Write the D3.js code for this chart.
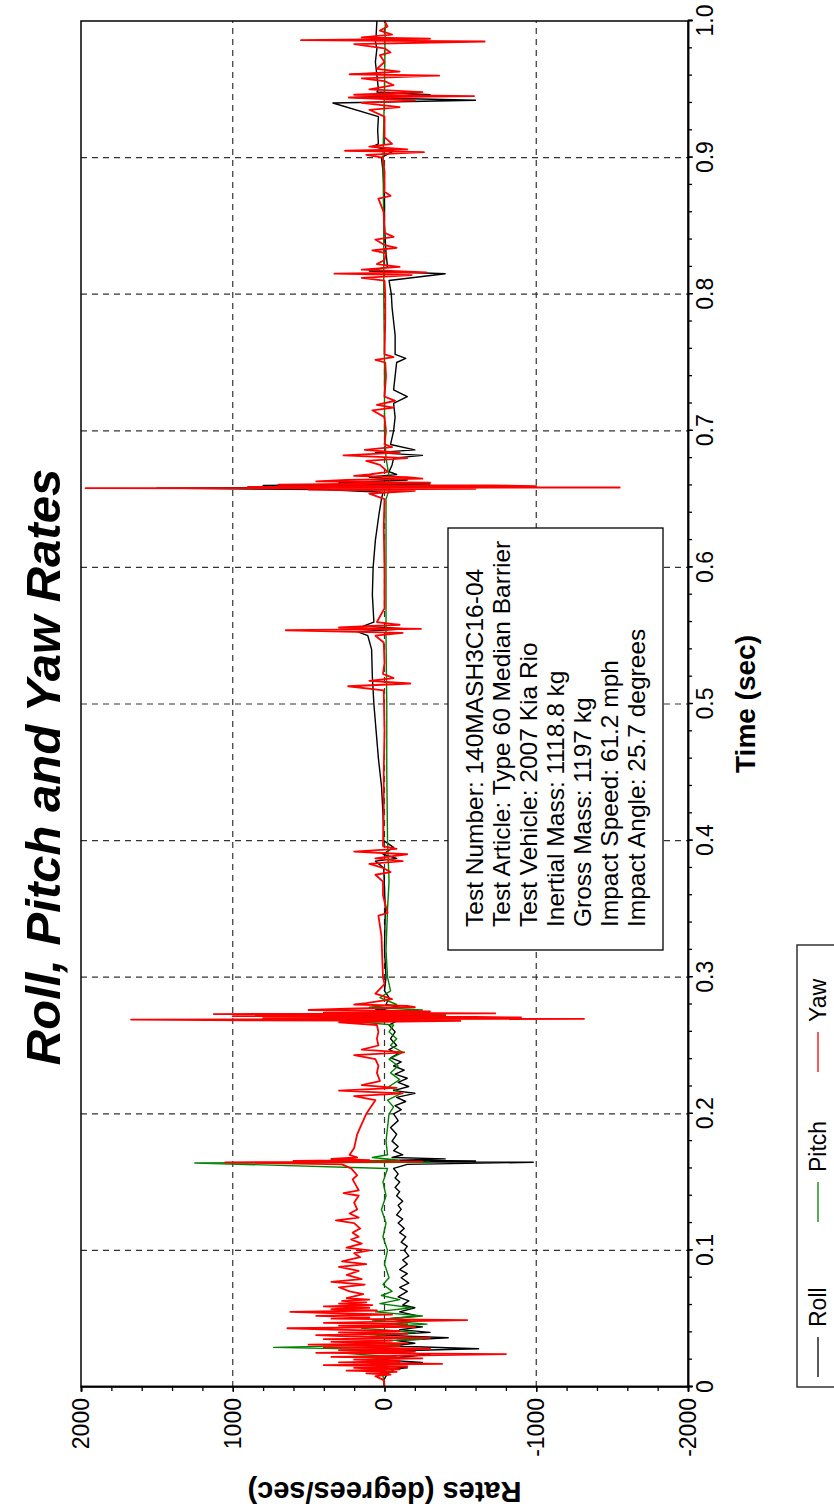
<!DOCTYPE html>
<html>
<head>
<meta charset="utf-8">
<script src="https://cdn.jsdelivr.net/npm/d3@7"></script>
<style>
  html, body { margin: 0; padding: 0; background: #fff; }
  svg { display: block; font-family: "Liberation Sans", Arial, sans-serif; }
</style>
</head>
<body>
<svg id="chart" width="834" height="1507"></svg>
<script>
// ---------------- data (time [s], rate [deg/s]) ----------------
const titleText = "Roll, Pitch and Yaw Rates";
const xLabel = "Time (sec)";
const yLabel = "Rates (degrees/sec)";
const xTicks = [0, 0.1, 0.2, 0.3, 0.4, 0.5, 0.6, 0.7, 0.8, 0.9, 1.0];
const xTickLabels = ["0", "0.1", "0.2", "0.3", "0.4", "0.5", "0.6", "0.7", "0.8", "0.9", "1.0"];
const yTicks = [-2000, -1000, 0, 1000, 2000];
const yTickLabels = ["-2000", "-1000", "0", "1000", "2000"];
const seriesNames = ["Roll", "Pitch", "Yaw"];
const seriesColors = ["#000000", "#008000", "#ff0000"];
const infoLines = [
  "Test Number: 140MASH3C16-04",
  "Test Article: Type 60 Median Barrier",
  "Test Vehicle: 2007 Kia Rio",
  "Inertial Mass: 1118.8 kg",
  "Gross Mass: 1197 kg",
  "Impact Speed: 61.2 mph",
  "Impact Angle: 25.7 degrees"
];

const roll = [[0,0],[0.005,5],[0.01,-20],[0.012,60],[0.014,-150],[0.016,80],[0.018,-250],[0.02,40],[0.022,-120],[0.024,-300],[0.026,100],[0.028,-620],[0.03,-50],[0.032,-200],[0.034,-80],[0.036,-420],[0.038,20],[0.04,-300],[0.042,-100],[0.044,-250],[0.046,-60],[0.048,-180],[0.05,-30],[0.052,-220],[0.055,-100],[0.058,-200],[0.06,-120],[0.063,-160],[0.066,-90],[0.07,-150],[0.073,-100],[0.076,-160],[0.08,-110],[0.083,-150],[0.086,-100],[0.09,-150],[0.093,-120],[0.096,-160],[0.1,-130],[0.103,-150],[0.106,-110],[0.11,-140],[0.113,-100],[0.116,-130],[0.12,-90],[0.123,-120],[0.126,-80],[0.13,-110],[0.133,-90],[0.136,-120],[0.14,-80],[0.143,-100],[0.146,-70],[0.15,-100],[0.153,-70],[0.156,-90],[0.16,-60],[0.163,-150],[0.1645,-980],[0.165,300],[0.1655,-600],[0.166,-100],[0.167,-400],[0.168,-50],[0.17,-120],[0.173,-60],[0.176,-90],[0.18,-50],[0.185,-80],[0.19,-40],[0.195,-90],[0.2,-60],[0.203,-110],[0.206,-70],[0.209,-140],[0.212,-80],[0.215,-200],[0.217,-60],[0.22,-160],[0.223,-90],[0.226,-150],[0.229,-70],[0.232,-130],[0.235,-60],[0.238,-110],[0.241,-40],[0.244,-90],[0.247,-30],[0.25,-80],[0.255,-40],[0.26,-70],[0.265,-30],[0.268,-80],[0.27,300],[0.2705,-500],[0.271,200],[0.272,-400],[0.273,150],[0.274,-250],[0.276,60],[0.278,-100],[0.28,-10],[0.285,-30],[0.29,0],[0.3,-10],[0.32,0],[0.35,-5],[0.38,5],[0.385,60],[0.387,-80],[0.39,10],[0.395,-60],[0.4,5],[0.42,10],[0.44,20],[0.46,40],[0.48,55],[0.5,70],[0.52,80],[0.54,85],[0.55,110],[0.553,180],[0.555,-150],[0.557,140],[0.56,70],[0.58,80],[0.6,75],[0.62,60],[0.64,35],[0.65,20],[0.655,10],[0.657,400],[0.658,1500],[0.659,-600],[0.66,800],[0.661,-300],[0.662,300],[0.664,-150],[0.666,100],[0.668,-80],[0.67,-30],[0.675,-50],[0.68,-60],[0.682,-250],[0.684,60],[0.686,-200],[0.69,-40],[0.7,-60],[0.71,-70],[0.72,-60],[0.725,-150],[0.73,-60],[0.74,-70],[0.75,-80],[0.753,-140],[0.756,-70],[0.77,-70],[0.78,-60],[0.79,-50],[0.8,-45],[0.81,-30],[0.815,-400],[0.817,100],[0.82,-20],[0.83,-10],[0.85,0],[0.87,0],[0.89,10],[0.9,20],[0.905,-60],[0.908,80],[0.91,40],[0.92,45],[0.93,40],[0.94,340],[0.942,-600],[0.944,200],[0.946,-300],[0.948,50],[0.95,40],[0.96,50],[0.97,60],[0.98,50],[0.985,60],[0.99,55],[1.0,50]];

const pitch = [[0,0],[0.008,10],[0.012,-60],[0.015,50],[0.018,-100],[0.02,120],[0.022,-80],[0.025,300],[0.027,-150],[0.029,730],[0.031,-100],[0.033,200],[0.035,-250],[0.037,100],[0.04,-200],[0.043,150],[0.046,-280],[0.049,80],[0.052,-250],[0.055,60],[0.058,-180],[0.061,30],[0.064,-100],[0.067,20],[0.07,-50],[0.075,10],[0.08,-30],[0.09,0],[0.1,-20],[0.11,10],[0.12,-10],[0.13,20],[0.14,-10],[0.15,10],[0.16,-20],[0.164,1250],[0.1645,-300],[0.165,600],[0.166,-100],[0.168,80],[0.17,-20],[0.18,-10],[0.19,-20],[0.2,-30],[0.205,-60],[0.21,-20],[0.215,-110],[0.22,-30],[0.225,-100],[0.23,-40],[0.235,-90],[0.24,-30],[0.245,-120],[0.25,-40],[0.255,-80],[0.26,-30],[0.265,-60],[0.268,250],[0.27,-500],[0.271,350],[0.272,-400],[0.274,200],[0.276,-250],[0.278,100],[0.28,-80],[0.285,30],[0.29,-40],[0.3,-20],[0.32,-10],[0.35,-20],[0.37,-30],[0.4,-20],[0.45,-15],[0.5,-15],[0.55,-10],[0.6,-10],[0.65,-10],[0.66,-40],[0.68,-10],[0.7,0],[0.75,0],[0.8,5],[0.85,5],[0.9,10],[0.95,0],[1.0,-5]];

const yaw = [[0,0],[0.005,5],[0.008,60],[0.009,-40],[0.01,120],[0.011,-80],[0.012,250],[0.013,-100],[0.014,200],[0.015,-150],[0.016,400],[0.017,-380],[0.018,300],[0.019,-100],[0.02,200],[0.021,-250],[0.022,350],[0.023,-150],[0.024,-800],[0.025,450],[0.026,-200],[0.027,300],[0.028,-300],[0.029,400],[0.03,-100],[0.031,500],[0.032,-150],[0.033,350],[0.034,-50],[0.035,400],[0.036,-300],[0.037,250],[0.038,450],[0.039,-150],[0.04,300],[0.041,-100],[0.042,350],[0.043,640],[0.044,-200],[0.045,300],[0.046,-150],[0.047,400],[0.048,-100],[0.049,-545],[0.05,350],[0.051,100],[0.052,450],[0.053,-50],[0.054,300],[0.055,620],[0.056,50],[0.057,350],[0.058,100],[0.059,400],[0.06,80],[0.061,300],[0.062,120],[0.063,280],[0.064,100],[0.065,250],[0.068,140],[0.07,230],[0.073,300],[0.075,130],[0.077,350],[0.079,150],[0.082,250],[0.085,170],[0.088,300],[0.09,120],[0.092,280],[0.095,160],[0.098,200],[0.1,100],[0.102,250],[0.105,150],[0.108,220],[0.11,170],[0.113,210],[0.116,160],[0.12,200],[0.122,320],[0.124,170],[0.127,230],[0.13,180],[0.135,200],[0.14,170],[0.142,270],[0.144,170],[0.148,190],[0.152,210],[0.155,180],[0.16,220],[0.163,280],[0.1645,1050],[0.165,-250],[0.1655,600],[0.166,100],[0.167,350],[0.168,180],[0.17,230],[0.175,200],[0.18,190],[0.185,180],[0.19,160],[0.195,140],[0.2,120],[0.205,90],[0.21,60],[0.213,200],[0.215,-120],[0.217,300],[0.219,-80],[0.221,150],[0.224,30],[0.23,50],[0.235,40],[0.24,60],[0.243,200],[0.245,-130],[0.247,150],[0.25,40],[0.255,50],[0.26,40],[0.265,50],[0.267,300],[0.268,-500],[0.2685,900],[0.269,1670],[0.2695,-1315],[0.27,800],[0.2705,-900],[0.271,-600],[0.2715,1000],[0.272,500],[0.2725,-400],[0.273,1125],[0.2735,-730],[0.274,400],[0.275,-300],[0.276,500],[0.277,250],[0.278,-200],[0.279,-150],[0.28,200],[0.281,120],[0.284,-50],[0.288,60],[0.295,0],[0.3,10],[0.33,20],[0.345,40],[0.347,-20],[0.36,10],[0.37,10],[0.375,60],[0.377,-40],[0.38,10],[0.383,100],[0.385,-120],[0.387,60],[0.39,-150],[0.392,200],[0.394,-80],[0.396,10],[0.42,5],[0.45,5],[0.48,0],[0.51,5],[0.513,240],[0.515,-170],[0.517,100],[0.519,-60],[0.522,10],[0.53,0],[0.545,5],[0.55,60],[0.552,-120],[0.554,650],[0.555,-240],[0.556,300],[0.558,-100],[0.56,50],[0.57,0],[0.6,0],[0.63,5],[0.65,0],[0.654,100],[0.656,-200],[0.657,500],[0.6575,-600],[0.658,1970],[0.6585,-1550],[0.659,900],[0.6595,-1000],[0.66,-700],[0.6605,700],[0.661,400],[0.662,-300],[0.663,450],[0.664,250],[0.665,-250],[0.666,-150],[0.667,200],[0.668,100],[0.67,-20],[0.675,30],[0.678,120],[0.68,-150],[0.682,270],[0.684,-100],[0.686,130],[0.688,-50],[0.69,0],[0.7,-10],[0.71,0],[0.715,80],[0.717,-60],[0.719,50],[0.722,-70],[0.725,0],[0.74,-10],[0.75,-5],[0.752,60],[0.754,-60],[0.756,0],[0.78,-5],[0.8,-5],[0.81,0],[0.812,150],[0.814,-180],[0.815,330],[0.816,-275],[0.818,150],[0.82,-100],[0.822,50],[0.825,0],[0.83,-10],[0.832,80],[0.834,-80],[0.836,0],[0.84,60],[0.842,-60],[0.845,0],[0.86,5],[0.87,40],[0.872,-40],[0.875,0],[0.89,0],[0.9,10],[0.902,120],[0.904,-260],[0.905,260],[0.906,-150],[0.908,100],[0.91,-50],[0.915,0],[0.93,0],[0.935,100],[0.937,-100],[0.94,150],[0.942,-200],[0.944,235],[0.945,-590],[0.946,200],[0.948,-250],[0.95,100],[0.953,-60],[0.956,0],[0.958,150],[0.96,-360],[0.961,230],[0.963,-100],[0.965,50],[0.97,0],[0.975,30],[0.977,-40],[0.98,0],[0.983,200],[0.985,-660],[0.986,550],[0.987,-300],[0.988,150],[0.99,-50],[0.993,30],[0.996,-20],[1.0,0]];

// ---------------- drawing ----------------
const PW = 834, PH = 1507;           // page
const W = PH, H = PW;                // landscape frame (rotated onto page)
const m = { left: 120, right: 21, top: 81, bottom: 146 };

const svg = d3.select("#chart");
// landscape chart rotated 90deg counter-clockwise onto the portrait page
const g = svg.append("g").attr("transform", `translate(0,${PH}) rotate(-90)`);

const x = d3.scaleLinear().domain([0, 1]).range([m.left, W - m.right]);
const y = d3.scaleLinear().domain([-2000, 2000]).range([H - m.bottom, m.top]);

// grid
const grid = g.append("g").attr("stroke", "#333").attr("stroke-width", 1.2)
  .attr("stroke-dasharray", "6,5");
grid.selectAll("line.v").data(xTicks.slice(1, -1)).join("line")
  .attr("x1", d => x(d)).attr("x2", d => x(d))
  .attr("y1", y(2000)).attr("y2", y(-2000));
grid.selectAll("line.h").data([1000, 0, -1000]).join("line")
  .attr("x1", x(0)).attr("x2", x(1))
  .attr("y1", d => y(d)).attr("y2", d => y(d));

// series
const line = d3.line().x(d => x(d[0])).y(d => y(d[1]));
const allSeries = [roll, pitch, yaw];
allSeries.forEach((s, i) => {
  g.append("path").datum(s)
    .attr("fill", "none")
    .attr("stroke", seriesColors[i])
    .attr("stroke-width", i === 2 ? 1.8 : 1.4)
    .attr("stroke-linejoin", "round")
    .attr("d", line);
});

// frame
g.append("rect").attr("x", x(0)).attr("y", y(2000))
  .attr("width", x(1) - x(0)).attr("height", y(-2000) - y(2000))
  .attr("fill", "none").attr("stroke", "#000").attr("stroke-width", 1.5);

// axes
const fontTick = 23;
const xAxis = g.append("g").attr("transform", `translate(0,${y(-2000)})`)
  .call(d3.axisBottom(x).tickValues(xTicks).tickSize(5).tickPadding(4)
    .tickFormat((d, i) => xTickLabels[i]));
const xMinor = g.append("g").attr("transform", `translate(0,${y(-2000)})`)
  .call(d3.axisBottom(x).tickValues(d3.range(0, 1.0001, 0.02)).tickSize(4).tickFormat(""));
const yAxis = g.append("g").attr("transform", `translate(${x(0)},0)`)
  .call(d3.axisLeft(y).tickValues(yTicks).tickSize(5).tickPadding(6)
    .tickFormat((d, i) => yTickLabels[i]));
const yMinor = g.append("g").attr("transform", `translate(${x(0)},0)`)
  .call(d3.axisLeft(y).tickValues(d3.range(-2000, 2001, 200)).tickSize(4).tickFormat(""));
[xAxis, xMinor, yAxis, yMinor].forEach(a => {
  a.select(".domain").attr("stroke", "#000").attr("stroke-width", 1.5);
  a.selectAll(".tick line").attr("stroke", "#000").attr("stroke-width", 1.3);
  a.selectAll("text").attr("font-size", fontTick).attr("fill", "#000")
    .attr("font-family", "Liberation Sans, Arial, sans-serif");
});

// axis titles
g.append("text").attr("x", (x(0) + x(1)) / 2).attr("y", 755)
  .attr("text-anchor", "middle").attr("font-size", 28).attr("font-weight", "bold")
  .text(xLabel);
g.append("text")
  .attr("transform", `translate(25,${(y(2000) + y(-2000)) / 2}) rotate(-90)`)
  .attr("text-anchor", "middle").attr("font-size", 29).attr("font-weight", "bold")
  .text(yLabel);

// title
g.append("text").attr("x", 740).attr("y", 60)
  .attr("text-anchor", "middle").attr("font-size", 49).attr("font-weight", "bold")
  .attr("font-style", "italic").text(titleText);

// info box
const ib = g.append("g");
ib.append("rect").attr("x", 557).attr("y", 448).attr("width", 422).attr("height", 215)
  .attr("fill", "#fff").attr("stroke", "#000").attr("stroke-width", 1.3);
ib.selectAll("text").data(infoLines).join("text")
  .attr("x", 580).attr("y", (d, i) => 483 + i * 27)
  .attr("font-size", 24.5).attr("fill", "#000").text(d => d);

// legend
const lg = g.append("g");
lg.append("rect").attr("x", x(0)).attr("y", 797).attr("width", 442).attr("height", 80)
  .attr("fill", "#fff").attr("stroke", "#333").attr("stroke-width", 1.5);
const legX = [130, 285, 435];
seriesNames.forEach((n, i) => {
  lg.append("line").attr("x1", legX[i]).attr("x2", legX[i] + 40)
    .attr("y1", 818).attr("y2", 818)
    .attr("stroke", seriesColors[i]).attr("stroke-width", 1.3);
  lg.append("text").attr("x", legX[i] + 50).attr("y", 826)
    .attr("font-size", 23).attr("fill", "#000").text(n);
});
</script>
</body>
</html>
